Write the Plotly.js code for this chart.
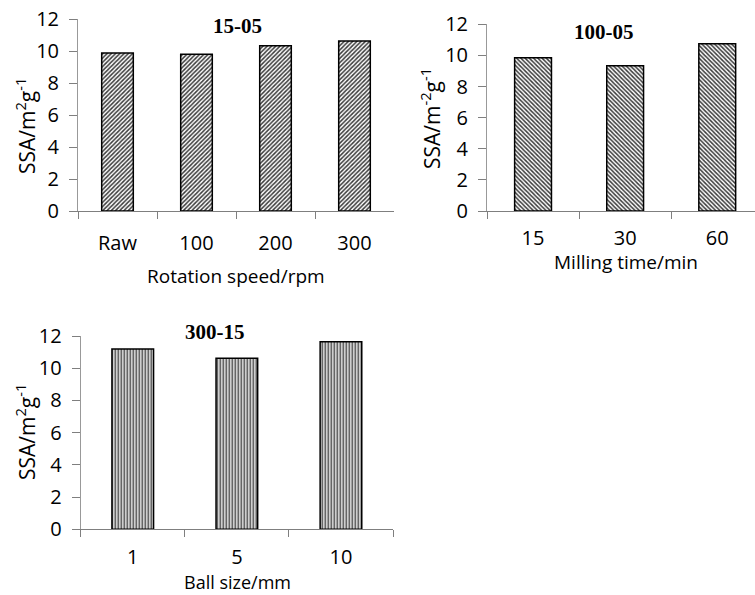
<!DOCTYPE html>
<html><head><meta charset="utf-8">
<script src="https://cdn.plot.ly/plotly-3.0.1.min.js"></script>
<style>html,body{margin:0;padding:0;background:#fff;overflow:hidden}</style>
</head><body>
<div id="chart" style="width:755px;height:595px"></div>
<script>
// Data
const speedCats = ["Raw", "100", "200", "300"];
const speedSSA = [9.87, 9.8, 10.33, 10.63];
const timeCats = ["15", "30", "60"];
const timeSSA = [9.85, 9.33, 10.75];
const ballCats = ["1", "5", "10"];
const ballSSA = [11.2, 10.62, 11.65];
const titles = ["15-05", "100-05", "300-15"];
const xTitles = ["Rotation speed/rpm", "Milling time/min", "Ball size/mm"];

const W = 755, H = 595;
const fx = p => p / W, fy = p => 1 - p / H;
const sans = "Open Sans, sans-serif";
const tickFont = {family: sans, size: 20, color: "#000"};

function barTrace(x, y, shape, xa, ya) {
  return {type: "bar", x: x, y: y, xaxis: xa, yaxis: ya, width: 0.4,
    marker: {color: "#fff", line: {color: "#000", width: 1.5},
      pattern: {shape: shape, fgcolor: "#3a3a3a", bgcolor: "#fff", size: 3, solidity: 0.5}},
    hoverinfo: "skip", showlegend: false};
}

const data = [
  barTrace(speedCats, speedSSA, "/", "x", "y"),
  barTrace(timeCats, timeSSA, "\\", "x2", "y2"),
  barTrace(ballCats, ballSSA, "|", "x3", "y3")
];

function xax(dom, anchor, range, standoff) {
  return {domain: dom, anchor: anchor, type: "category", range: range,
    showline: true, linecolor: "#7f7f7f", linewidth: 1, ticks: "outside", tickson: "boundaries",
    ticklen: 7, tickcolor: "#7f7f7f", tickfont: tickFont, ticklabelstandoff: standoff,
    showgrid: false, zeroline: false, fixedrange: true};
}
function yax(dom, anchor) {
  return {domain: dom, anchor: anchor, range: [0, 12], dtick: 2, showline: true,
    linecolor: "#999", linewidth: 1, ticks: "outside", ticklen: 8, tickcolor: "#7f7f7f",
    tickfont: tickFont, ticklabelstandoff: 6, showgrid: false, zeroline: false, fixedrange: true};
}

function ann(text, x, y, font, angle) {
  const a = {text: text, x: fx(x), y: fy(y), xref: "paper", yref: "paper", showarrow: false,
    xanchor: "center", yanchor: "middle", font: font};
  if (angle !== undefined) a.textangle = angle;
  return a;
}
const titleFont = {family: "Liberation Serif, serif", size: 21, color: "#000"};
const axFont = {family: sans, size: 19, color: "#000"};
const axFont3 = {family: sans, size: 18, color: "#000"};
const yFont = {family: sans, size: 21, color: "#000"};

const layout = {
  width: W, height: H, margin: {l: 0, r: 0, t: 0, b: 0},
  paper_bgcolor: "#fff", plot_bgcolor: "rgba(0,0,0,0)", bargap: 0.6,
  xaxis: xax([fx(78), fx(394)], "y", [-0.5, 3.5], 14),
  yaxis: yax([fy(211), fy(19)], "x"),
  xaxis2: xax([fx(487), 1], "y2", [-0.5, 2.41], 9),
  yaxis2: yax([fy(211), fy(24.3)], "x2"),
  xaxis3: xax([fx(80.7), fx(393)], "y3", [-0.5, 2.5], 10),
  yaxis3: yax([fy(529.3), fy(336)], "x3"),
  annotations: [
    ann("<b>" + titles[0] + "</b>", 237, 26, titleFont),
    ann("<b>" + titles[1] + "</b>", 604, 32, titleFont),
    ann("<b>" + titles[2] + "</b>", 215, 332, titleFont),
    ann(xTitles[0], 236, 276, axFont),
    ann(xTitles[1], 626, 262, axFont),
    ann(xTitles[2], 237, 582, axFont3),
    ann("SSA/m<sup>2</sup>g<sup>-1</sup>", 25, 126, yFont, -90),
    ann("SSA/m<sup>-2</sup>g<sup>-1</sup>", 431, 118, yFont, -90),
    ann("SSA/m<sup>2</sup>g<sup>-1</sup>", 25, 432, yFont, -90)
  ]
};
Plotly.newPlot("chart", data, layout, {displayModeBar: false, staticPlot: true});
</script>
</body></html>
